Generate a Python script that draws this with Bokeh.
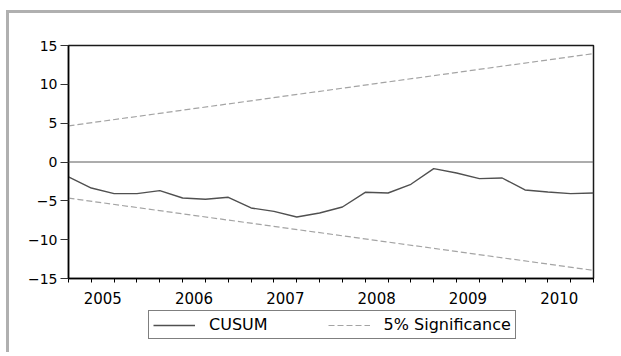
from bokeh.plotting import figure
from bokeh.layouts import column
from bokeh.models import (Range1d, FixedTicker, CustomJSTickFormatter, Span,
                          Legend, LegendItem, ColumnDataSource)
from bokeh.embed import file_html
from bokeh.resources import INLINE

# ---- data ----
years = [2005, 2006, 2007, 2008, 2009, 2010]
quarters = [1, 2, 3, 4]
cusum = [-1.93, -3.35, -4.07, -4.07, -3.68, -4.63, -4.80, -4.54,
         -5.92, -6.35, -7.08, -6.56, -5.79, -3.90, -3.99, -2.87,
         -0.85, -1.41, -2.14, -2.06, -3.60, -3.86, -4.07, -3.99]
sig_periods = [(2005, 1), (2010, 4)]
sig_upper = [4.65, 13.95]
sig_lower = [-4.65, -13.95]
y_ticks = [-15, -10, -5, 0, 5, 10, 15]
series_names = ["CUSUM", "5% Significance"]

def qpos(y, q):
    return y + (q - 1) / 4.0

x = [qpos(y, q) for y in years for q in quarters]
sx = [qpos(y, q) for (y, q) in sig_periods]

FONT = "DejaVu Sans"
CUSUM_STYLE = dict(line_color="#505050", line_width=1.4)
SIG_STYLE = dict(line_color="#a4a4a4", line_width=1.2, line_dash="6 3")

# ---------------- main chart ----------------
p = figure(width=621, height=310, output_backend="svg", toolbar_location=None,
           x_range=Range1d(x[0], x[-1]), y_range=Range1d(-15, 15),
           min_border_left=68, min_border_right=28, min_border_top=45,
           min_border_bottom=32)
p.xgrid.visible = False
p.ygrid.visible = False
p.outline_line_color = "#1a1a1a"
p.outline_line_width = 1.5
p.background_fill_color = "white"
p.border_fill_color = None

p.add_layout(Span(location=0, dimension="width", line_color="#5a5a5a", line_width=1))

src = ColumnDataSource(dict(x=x, y=cusum))
p.line("x", "y", source=src, **CUSUM_STYLE)
p.line(sx, sig_upper, **SIG_STYLE)
p.line(sx, sig_lower, **SIG_STYLE)

xa = p.xaxis[0]
xa.ticker = FixedTicker(ticks=[y + 0.375 for y in years], minor_ticks=x)
xa.formatter = CustomJSTickFormatter(code="return Math.floor(tick).toString();")
xa.major_tick_line_color = None
xa.minor_tick_in = 0
xa.minor_tick_out = 4
xa.minor_tick_line_color = "black"
xa.axis_line_color = "black"
xa.axis_line_width = 1.5
xa.major_label_standoff = 7
xa.major_label_text_font = FONT
xa.major_label_text_font_size = "15px"
xa.major_label_text_color = "black"

ya = p.yaxis[0]
ya.ticker = FixedTicker(ticks=y_ticks)
ya.major_tick_in = 0
ya.major_tick_out = 8
ya.minor_tick_line_color = None
ya.major_tick_line_color = "#333333"
ya.axis_line_color = "black"
ya.axis_line_width = 1.5
ya.major_label_standoff = 3
ya.major_label_text_font = FONT
ya.major_label_text_font_size = "14px"
ya.major_label_text_color = "black"

# ---------------- legend strip ----------------
lg = figure(width=621, height=42, output_backend="svg", toolbar_location=None,
            x_range=Range1d(0, 1), y_range=Range1d(0, 1),
            x_axis_location=None, y_axis_location=None, min_border=0)
lg.xgrid.visible = False
lg.ygrid.visible = False
lg.outline_line_color = None
lg.background_fill_color = None
lg.border_fill_color = None
# same series, outside this strip's ranges: only their legend swatches show
l_cusum = lg.line(x, cusum, **CUSUM_STYLE)
l_sig = lg.line(sx, sig_upper, **SIG_STYLE)

legend = Legend(items=[LegendItem(label=series_names[0], renderers=[l_cusum]),
                       LegendItem(label=series_names[1], renderers=[l_sig])],
                orientation="horizontal", location=(80, 13),
                label_text_font=FONT, label_text_font_size="16px",
                label_text_color="black",
                glyph_width=42, glyph_height=14, label_standoff=14, spacing=60,
                padding=4, margin=0,
                border_line_color="black", border_line_width=1.2,
                background_fill_color="white", background_fill_alpha=1)
lg.add_layout(legend, "center")

# outer grey frame of the graph (left and top edges) drawn as page background
page = column(p, lg, spacing=0,
              styles={"overflow": "hidden",
                      "background-color": "white",
                      "background-image": "linear-gradient(#b0b0b0, #b0b0b0), "
                                          "linear-gradient(#b0b0b0, #b0b0b0)",
                      "background-position": "6px 10px, 6px 10px",
                      "background-size": "3px 100%, 100% 3px",
                      "background-repeat": "no-repeat, no-repeat"})

open("out.html", "w").write(file_html(page, INLINE))
